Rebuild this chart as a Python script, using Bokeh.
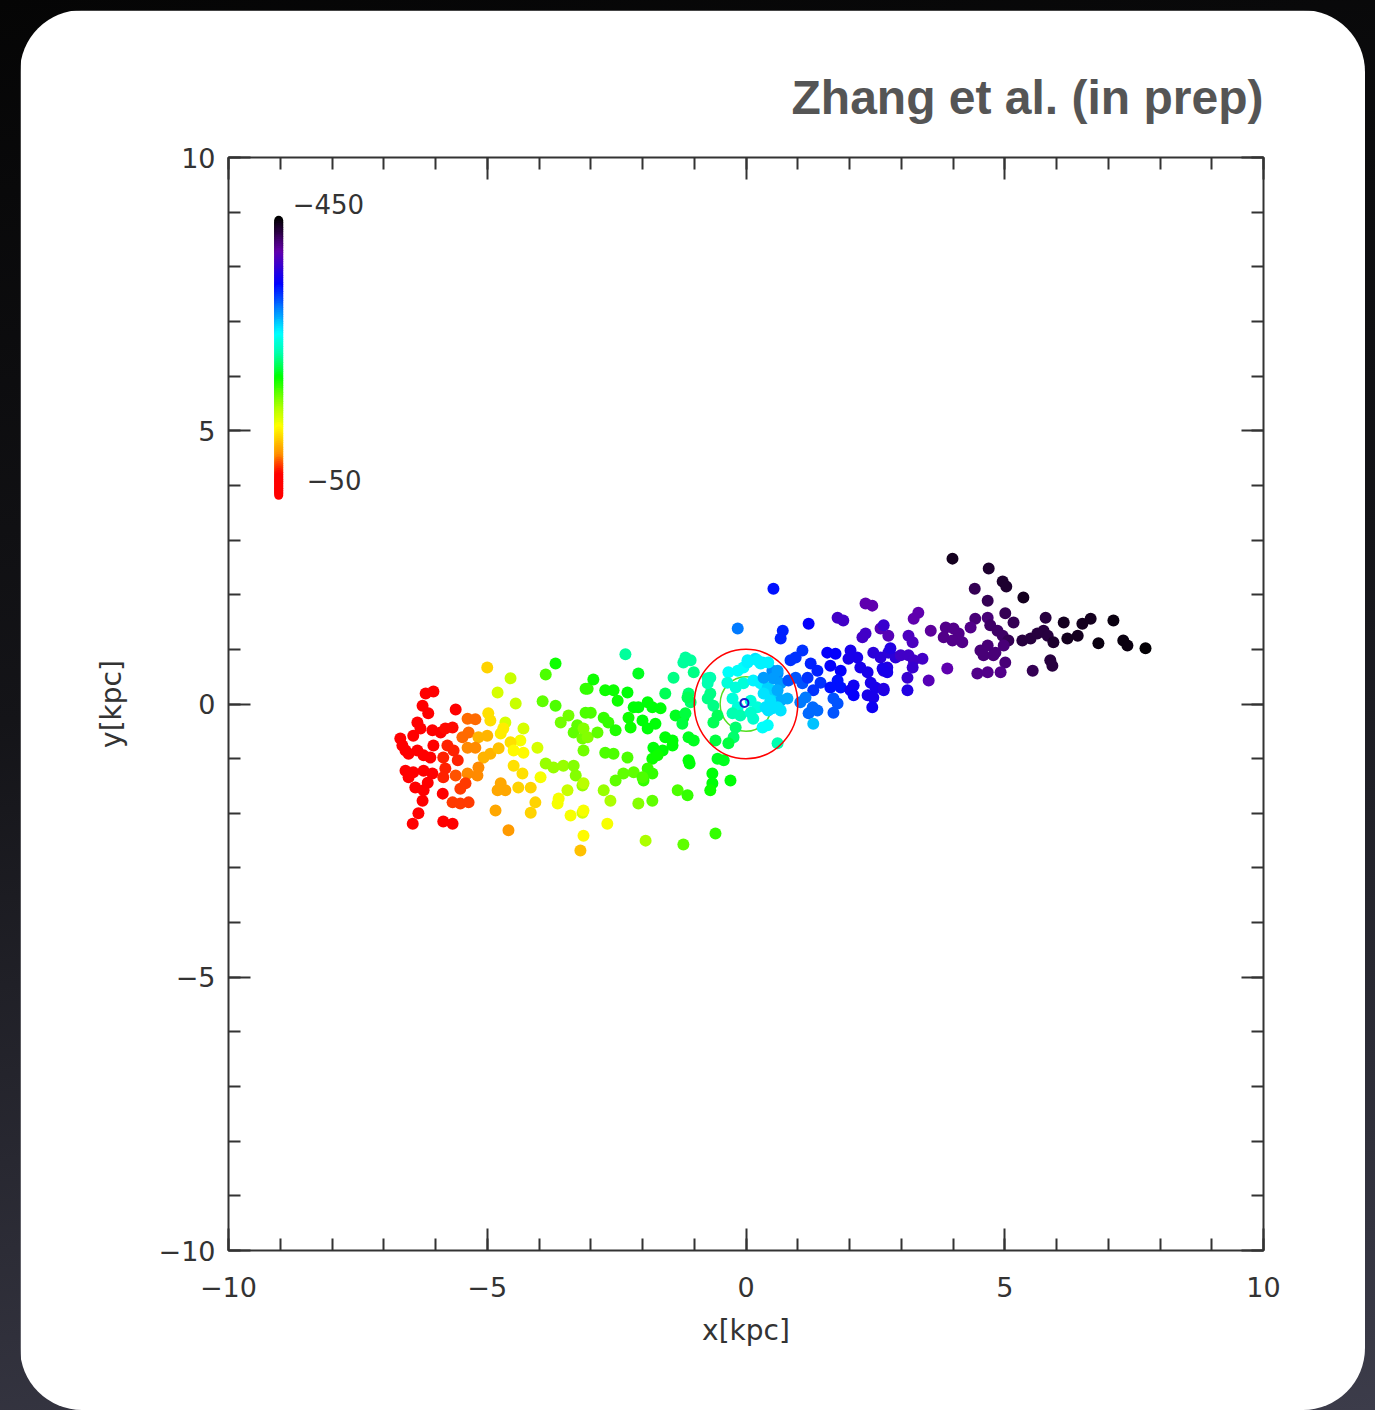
from bokeh.plotting import figure
from bokeh.models import (LinearAxis, SingleIntervalTicker, LinearColorMapper,
                          ColumnDataSource, Range1d, Title)
from bokeh.layouts import column
from bokeh.embed import file_html
from bokeh.resources import INLINE
from bokeh.transform import transform
from bokeh.core.properties import value

# ---------------- data (kpc, km/s) ----------------
x_kpc = [
    -5.00, -3.68, -3.87, -4.55, -3.06, -6.19, -6.04, -4.80, -3.93, -3.68,
    -4.45, -6.25, -6.14, -5.61, -5.38, -5.23, -4.98, -4.94, -4.65, -3.43,
    -3.10, -3.58, -3.26, -3.33, -6.35, -6.29, -6.43, -6.68, -6.64, -6.58,
    -6.06, -5.90, -5.81, -5.67, -5.48, -5.36, -5.17, -5.00, -4.69, -4.74,
    -4.30, -4.36, -4.55, -3.16, -3.14, -6.52, -6.35, -6.23, -6.04, -6.10,
    -5.77, -5.65, -5.85, -5.57, -5.38, -5.23, -5.07, -4.94, -4.78, -4.49,
    -4.30, -4.03, -3.87, -3.72, -3.53, -3.33, -6.58, -6.52, -6.43, -6.23,
    -6.06, -6.15, -5.81, -5.85, -5.61, -5.38, -5.19, -5.17, -4.49, -4.32,
    -3.97, -3.29, -6.39, -6.23, -5.86, -5.52, -5.42, -5.67, -5.52, -5.36,
    -4.74, -4.65, -4.80, -4.40, -4.16, -3.45, -3.16, -6.25, -6.33, -6.44,
    -5.85, -5.67, -4.84, -4.07, -4.16, -3.64, -3.62, -3.39, -3.16, -4.59,
    -3.14, -3.20,
    -2.33, -1.17, -1.21, -2.08, -1.40, -1.01, -2.95, -3.10, -2.72, -2.56,
    -2.48, -2.29, -2.17, -2.08, -1.90, -1.81, -1.56, -1.11, -1.07, -3.00,
    -2.75, -2.66, -2.27, -2.23, -2.00, -1.90, -1.75, -1.36, -1.21, -1.65,
    -3.14, -3.06, -2.87, -2.52, -1.56, -1.42, -1.11, -1.01, -1.79, -1.61,
    -2.72, -2.56, -2.29, -1.81, -1.71, -1.11, -0.55, -0.43, -3.14, -2.52,
    -2.37, -2.17, -1.98, -1.81, -1.90, -0.65, -0.65, -0.30, -2.75, -2.62,
    -1.32, -1.13, -0.69, -2.08, -1.81, -3.14, -2.68, -0.59, -1.94, -1.21,
    -1.42, -1.09, -2.00,
    -0.34, -0.16, -0.05, 0.03, 0.18, 0.32, 0.51, 0.61, -0.36, -0.20,
    -0.05, 0.14, 0.28, 0.42, 0.53, 0.61, -0.74, -0.69, -0.74, -0.63,
    -0.26, -0.16, 0.09, 0.22, 0.38, 0.51, -0.55, -0.63, -0.26, -0.11,
    0.09, 0.14, 0.32, 0.42, -0.20, -0.24, -0.34, -0.59, 0.61,
    0.53, -0.16, 0.71, 0.67, 1.21, 1.77, 1.88, 2.31, 2.44, 2.31,
    2.25, 2.60, 2.75, 1.09, 0.96, 0.86, 1.57, 1.73, 2.02, 2.15,
    1.98, 2.46, 2.60, 2.75, 2.89, 1.25, 1.38, 1.63, 1.83, 2.21,
    2.35, 2.66, 2.73, 0.34, 0.53, 0.67, 0.82, 0.96, 1.09, 1.19,
    1.44, 1.30, 1.77, 1.83, 1.63, 2.02, 2.08, 2.41, 2.50, 2.66,
    2.35, 2.46, 0.61, 0.67, 0.80, 1.05, 1.15, 1.29, 1.38, 1.21,
    1.69, 1.77, 1.69, 2.08, 2.44, 1.30, 0.34, 0.47, 0.61, 0.43,
    0.67, 0.28, 0.43, 0.03, 0.22, 0.61, -1.07, -0.69, -0.74, -1.13,
    -1.23, -1.17,
    3.99, 4.69, 4.96, 5.03, 5.36, 4.42, 4.67, 5.79, 6.14, 6.50,
    6.66, 7.10, 5.01, 5.17, 4.43, 4.67, 3.33, 3.24, 3.57, 3.86,
    4.01, 4.11, 3.82, 3.99, 4.18, 4.34, 4.72, 4.86, 4.96, 5.07,
    5.34, 5.50, 5.63, 5.75, 5.83, 5.94, 6.21, 6.41, 6.81, 7.29,
    7.37, 7.72, 4.53, 4.67, 4.82, 4.98, 4.59, 4.78, 5.01, 4.47,
    4.67, 4.92, 5.54, 5.88, 5.92, 3.89, 3.53, 2.66, 3.14, 3.22,
    2.99, 3.14, 3.24, 3.41, 2.79, 2.64, 2.73, 3.12, 3.22, 2.66,
    3.12,
]

y_kpc = [
    0.67, 0.74, 0.54, 0.47, 0.28, 0.19, 0.23, 0.21, 0.05, -0.03,
    0.01, -0.03, -0.17, -0.10, -0.27, -0.28, -0.17, -0.30, -0.34, -0.21,
    -0.16, -0.34, -0.39, -0.52, -0.34, -0.45, -0.58, -0.63, -0.76, -0.85,
    -0.48, -0.52, -0.45, -0.43, -0.61, -0.52, -0.61, -0.58, -0.45, -0.54,
    -0.45, -0.67, -0.70, -0.63, -0.85, -0.91, -0.85, -0.94, -0.76, -0.98,
    -0.76, -0.85, -0.98, -1.03, -0.80, -0.80, -0.98, -0.91, -0.81, -0.85,
    -0.89, -0.80, -1.09, -1.16, -1.13, -1.13, -1.22, -1.34, -1.25, -1.22,
    -1.27, -1.44, -1.18, -1.34, -1.31, -1.27, -1.31, -1.16, -1.13, -1.27,
    -1.34, -1.31, -1.53, -1.58, -1.64, -1.55, -1.45, -1.80, -1.82, -1.80,
    -1.45, -1.58, -1.58, -1.53, -1.53, -1.58, -1.49, -1.77, -2.00, -2.19,
    -2.15, -2.19, -1.95, -1.80, -1.99, -1.82, -1.73, -2.04, -1.99, -2.31,
    -2.41, -2.68,
    0.91, 0.85, 0.76, 0.56, 0.48, 0.58, 0.45, 0.28, 0.25, 0.25,
    0.06, 0.21, -0.06, -0.06, 0.03, -0.06, 0.19, 0.19, 0.03, -0.16,
    -0.25, -0.34, -0.25, -0.43, -0.30, -0.45, -0.36, -0.21, -0.25, -0.08,
    -0.45, -0.61, -0.52, -0.48, -0.61, -0.67, -0.61, -0.67, -0.80, -0.85,
    -0.89, -0.91, -0.98, -1.00, -0.94, -1.03, -1.00, -1.03, -1.45, -1.40,
    -1.27, -1.25, -1.40, -1.27, -1.18, -1.27, -1.45, -1.40, -1.58, -1.77,
    -1.58, -1.67, -1.58, -1.82, -1.77, -1.95, -2.19, -2.37, -2.50, -2.57,
    -0.76, -1.09, -1.34,
    0.58, 0.61, 0.67, 0.76, 0.83, 0.76, 0.61, 0.56, 0.39, 0.30,
    0.38, 0.43, 0.38, 0.30, 0.25, 0.12, 0.47, 0.19, 0.10, -0.03,
    0.10, -0.06, 0.06, -0.06, -0.06, -0.08, -0.21, -0.34, -0.17, -0.21,
    -0.16, -0.27, -0.43, -0.39, -0.43, -0.61, -0.72, -0.67, -0.72,
    2.11, 1.38, 1.34, 1.20, 1.47, 1.58, 1.53, 1.84, 1.80, 1.29,
    1.22, 1.38, 1.25, 0.98, 0.85, 0.80, 0.94, 0.92, 0.98, 0.85,
    0.83, 0.94, 0.85, 0.94, 0.85, 0.74, 0.61, 0.70, 0.61, 0.67,
    0.58, 0.61, 0.67, 0.48, 0.47, 0.38, 0.43, 0.48, 0.38, 0.48,
    0.39, 0.25, 0.43, 0.30, 0.30, 0.25, 0.34, 0.39, 0.30, 0.25,
    0.16, 0.12, 0.25, 0.06, 0.10, 0.03, 0.12, -0.06, -0.12, -0.17,
    0.10, 0.01, -0.16, 0.16, -0.06, -0.36, 0.19, 0.06, -0.06, -0.12,
    -0.12, 0.74, 0.76, 0.80, 0.80, 0.61, 0.80, 0.48, 0.38, 0.12,
    -0.36, -0.17,
    2.66, 2.48, 2.24, 2.15, 1.95, 2.11, 1.89, 1.58, 1.49, 1.47,
    1.56, 1.53, 1.66, 1.49, 1.56, 1.58, 1.67, 1.56, 1.34, 1.40,
    1.38, 1.29, 1.22, 1.16, 1.13, 1.40, 1.44, 1.34, 1.25, 1.16,
    1.16, 1.20, 1.29, 1.34, 1.25, 1.13, 1.20, 1.25, 1.11, 1.16,
    1.07, 1.02, 0.98, 1.07, 0.94, 1.07, 0.89, 0.89, 0.76, 0.56,
    0.58, 0.58, 0.61, 0.80, 0.70, 0.65, 0.43, 1.44, 1.25, 1.13,
    0.89, 0.89, 0.80, 0.83, 1.02, 0.65, 0.58, 0.48, 0.67, 0.28,
    0.25,
]

v_los = [
    -130, -215, -200, -165, -205, -65, -65, -160, -195, -200,
    -165, -65, -65, -70, -100, -100, -135, -135, -160, -190,
    -200, -190, -195, -195, -65, -65, -65, -65, -65, -65,
    -70, -70, -80, -80, -100, -100, -120, -120, -140, -140,
    -160, -150, -135, -190, -190, -65, -65, -65, -70, -70,
    -85, -85, -85, -85, -105, -105, -120, -120, -125, -145,
    -145, -160, -180, -180, -180, -185, -65, -65, -65, -65,
    -65, -65, -85, -85, -95, -105, -105, -105, -135, -135,
    -150, -185, -65, -65, -70, -90, -90, -90, -90, -90,
    -115, -115, -115, -130, -130, -165, -180, -65, -65, -65,
    -70, -70, -115, -130, -130, -150, -150, -150, -160, -110,
    -145, -125,
    -250, -250, -250, -225, -245, -245, -215, -205, -215, -215,
    -215, -220, -220, -220, -220, -220, -235, -240, -240, -200,
    -205, -205, -215, -215, -220, -220, -220, -225, -225, -220,
    -185, -185, -195, -210, -220, -220, -225, -225, -220, -220,
    -200, -200, -200, -215, -215, -220, -225, -225, -170, -195,
    -195, -195, -205, -205, -205, -220, -220, -220, -180, -175,
    -200, -205, -215, -185, -195, -150, -150, -205, -175, -195,
    -220, -220, -200,
    -280, -280, -280, -285, -290, -290, -315, -315, -270, -270,
    -270, -285, -285, -295, -295, -295, -255, -245, -245, -245,
    -270, -270, -270, -270, -290, -290, -235, -235, -255, -255,
    -265, -265, -280, -280, -240, -240, -230, -230, -255,
    -350, -320, -345, -345, -355, -385, -385, -400, -400, -385,
    -385, -395, -395, -340, -340, -340, -355, -355, -365, -365,
    -365, -375, -375, -375, -375, -345, -345, -355, -355, -365,
    -365, -370, -370, -310, -310, -310, -330, -330, -330, -340,
    -340, -340, -350, -350, -350, -360, -360, -365, -365, -365,
    -365, -365, -305, -305, -305, -320, -320, -325, -325, -325,
    -330, -330, -330, -355, -360, -300, -290, -290, -290, -290,
    -290, -285, -285, -285, -285, -310, -250, -255, -255, -235,
    -230, -230,
    -440, -435, -435, -435, -440, -425, -425, -430, -440, -440,
    -440, -445, -425, -425, -415, -415, -400, -400, -405, -410,
    -410, -410, -410, -410, -410, -410, -420, -420, -420, -425,
    -430, -430, -430, -430, -430, -435, -440, -440, -445, -445,
    -445, -448, -415, -415, -415, -415, -415, -415, -415, -410,
    -410, -410, -425, -430, -430, -400, -395, -380, -390, -390,
    -385, -385, -385, -385, -370, -365, -365, -380, -380, -370,
    -370,
]

v_min, v_max = -450, -50
tick_vals = [-10, -5, 0, 5, 10]
tick_text = ["\u221210", "\u22125", "0", "5", "10"]
cbar_labels = ["\u2212450", "\u221250"]

# ---------------- colour table (IDL-like rainbow, black -> red) ----------------
anchors = [(0.00, (0, 0, 0)), (0.06, (50, 0, 80)), (0.12, (100, 0, 170)),
           (0.24, (0, 0, 255)), (0.33, (0, 128, 255)), (0.42, (0, 255, 255)),
           (0.50, (0, 255, 160)), (0.58, (0, 255, 0)), (0.68, (160, 255, 0)),
           (0.76, (255, 255, 0)), (0.86, (255, 144, 0)), (0.93, (255, 0, 0)),
           (1.00, (255, 0, 0))]
palette = []
for i in range(256):
    t = i / 255
    for (t0, c0), (t1, c1) in zip(anchors[:-1], anchors[1:]):
        if t0 <= t <= t1:
            f = (t - t0) / (t1 - t0) if t1 > t0 else 0
            rgb = [round(a + (b - a) * f) for a, b in zip(c0, c1)]
            palette.append("#%02x%02x%02x" % tuple(rgb))
            break
mapper = LinearColorMapper(palette=palette, low=v_min, high=v_max)

# ---------------- figure ----------------
INK = "#333333"
p = figure(width=1345, height=1400, x_range=Range1d(-10, 10), y_range=Range1d(-10, 10),
           output_backend="svg", toolbar_location=None,
           x_axis_location=None, y_axis_location=None,
           min_border_left=208, min_border_right=102, min_border_top=147, min_border_bottom=160,
           border_fill_color="white", background_fill_color="white",
           outline_line_color=INK, outline_line_width=2)
p.grid.visible = False
p.margin = (10, 10, 0, 20)
p.styles = {"border-radius": "62px", "overflow": "hidden"}

overrides = dict(zip(tick_vals, tick_text))


def make_axis(show_labels, label=""):
    ax = LinearAxis(ticker=SingleIntervalTicker(interval=5, num_minor_ticks=5))
    ax.major_tick_in = 22
    ax.major_tick_out = 0
    ax.minor_tick_in = 12
    ax.minor_tick_out = 0
    ax.major_tick_line_color = INK
    ax.minor_tick_line_color = INK
    ax.major_tick_line_width = 2
    ax.minor_tick_line_width = 2
    ax.axis_line_color = None
    if show_labels:
        ax.major_label_overrides = overrides
        ax.major_label_text_font = "DejaVu Sans"
        ax.major_label_text_font_size = "27px"
        ax.major_label_text_color = INK
        ax.axis_label = label
        ax.axis_label_text_font = "DejaVu Sans"
        ax.axis_label_text_font_style = "normal"
        ax.axis_label_text_font_size = "28px"
        ax.axis_label_text_color = INK
    else:
        ax.major_label_text_font_size = "0px"
        ax.major_label_text_alpha = 0
        ax.major_label_standoff = 0
    return ax


xb = make_axis(True, "x[kpc]")
xb.major_label_standoff = 26
xb.axis_label_standoff = 14
yl = make_axis(True, "y[kpc]")
yl.major_label_standoff = 13
yl.axis_label_standoff = 28
p.add_layout(xb, "below")
p.add_layout(yl, "left")
p.add_layout(make_axis(False), "above")
p.add_layout(make_axis(False), "right")

p.add_layout(Title(text="Zhang et al. (in prep)", align="right", text_font="Liberation Sans",
                   text_font_style="bold", text_font_size="48px", text_color="#555555",
                   standoff=68), "above")

# green inner ring (under points)
p.ellipse(x=[0], y=[0], width=1.0, height=1.0, fill_color=None,
          line_color="#55dd22", line_width=1.5)

src = ColumnDataSource(dict(x=x_kpc, y=y_kpc, v=v_los))
p.scatter("x", "y", source=src, size=12, fill_color=transform("v", mapper), line_color=None)

# red 1 kpc circle and centre marker
p.ellipse(x=[0], y=[0], width=2.0, height=2.0, fill_color=None, line_color="red", line_width=1.5)
p.scatter(x=[-0.03], y=[0.02], size=8, fill_color=None, line_color="#1a1acc", line_width=2)

# colour bar drawn inside the frame
cb_x = -9.03
cb_top, cb_bot = 8.85, 3.82
n = 120
vals = [v_min + (v_max - v_min) * i / n for i in range(n + 1)]
ys = [cb_top - (cb_top - cb_bot) * (v - v_min) / (v_max - v_min) for v in vals]
cb = ColumnDataSource(dict(x0=[cb_x] * n, x1=[cb_x] * n, y0=ys[:-1], y1=ys[1:], v=vals[:-1]))
p.segment("x0", "y0", "x1", "y1", source=cb, line_color=transform("v", mapper),
          line_width=9, line_cap="round")
p.text(x=[-8.76, -8.49], y=[9.14, 4.09], text=cbar_labels, text_font=value("DejaVu Sans"),
       text_font_size="26px", text_color=INK, text_baseline="middle", text_align="left")

page = column(p, width=1375, height=1410,
              styles={"background": "linear-gradient(172deg, #050505 0%, #141418 45%, #3c3c4a 100%)"})

open("out.html", "w").write(file_html(page, INLINE))
